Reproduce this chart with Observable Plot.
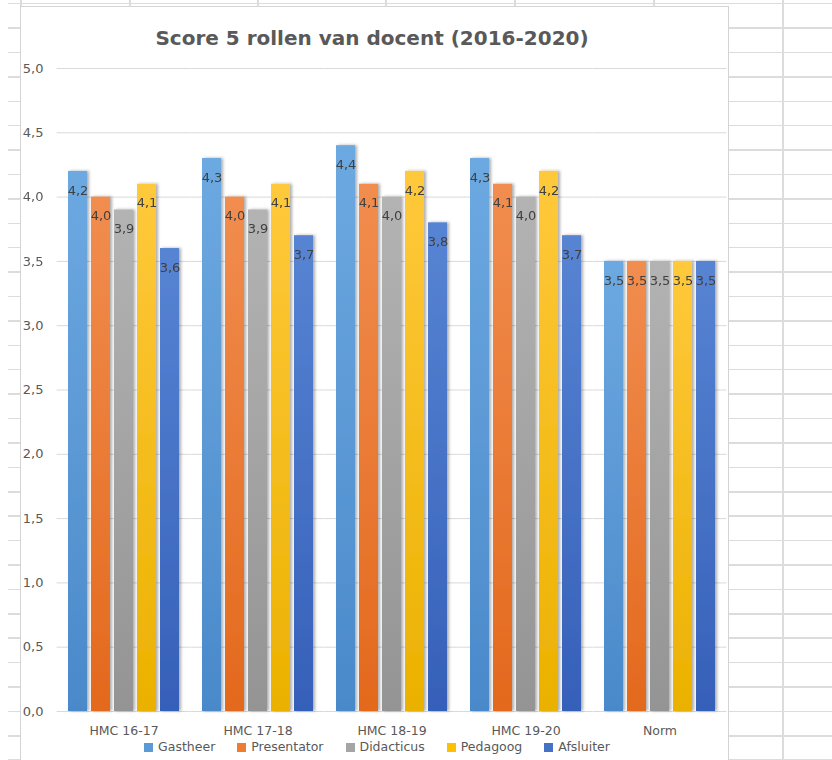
<!DOCTYPE html>
<html lang="nl">
<head>
<meta charset="utf-8">
<title>Score 5 rollen van docent (2016-2020)</title>
<script src="https://cdn.jsdelivr.net/npm/d3@7"></script>
<script src="https://cdn.jsdelivr.net/npm/@observablehq/plot@0.6"></script>
<style>
  html, body { margin: 0; padding: 0; }
  body {
    width: 832px; height: 760px; overflow: hidden; position: relative;
    background: #fff; font-family: "DejaVu Sans", sans-serif;
  }
  /* worksheet cells behind the chart */
  .rows {
    position: absolute; left: 8px; top: 0; right: 0; bottom: 0;
    background-image: repeating-linear-gradient(to bottom,
      transparent 0px, transparent 3px, #dcdcdc 3px, #dcdcdc 4.5px, transparent 4.5px, transparent 24.4px);
  }
  .col { position: absolute; top: 0; bottom: 0; width: 1.5px; background: #dcdcdc; }
  #chart {
    position: absolute; left: 20px; top: 6px; width: 709px; height: 800px;
    background: #fff; border: 1px solid #d4d4d4; box-sizing: border-box;
  }
  #title {
    position: absolute; left: 20px; top: 24px; width: 704px; text-align: center;
    font: bold 20px/28px "DejaVu Sans", sans-serif; color: #595959; white-space: nowrap;
  }
  #plot { position: absolute; left: 20px; top: 50px; }
  #legend {
    position: absolute; left: 20px; top: 739px; width: 714px; height: 16px;
    display: flex; justify-content: center; align-items: center;
  }
  #legend > div { margin: 0 !important; min-height: 0 !important; }
  #legend span { margin-right: 22px !important; line-height: 14px; }
  #legend span:last-child { margin-right: 0 !important; }
  #legend span svg { margin-right: 5px !important; }
</style>
</head>
<body>
<div class="rows"></div>
<div class="col" style="left:20px"></div>
<div class="col" style="left:129px"></div>
<div class="col" style="left:257px"></div>
<div class="col" style="left:385px"></div>
<div class="col" style="left:514px"></div>
<div class="col" style="left:653px"></div>
<div class="col" style="left:782px"></div>

<div id="chart"></div>
<div id="title">Score 5 rollen van docent (2016-2020)</div>
<div id="plot"></div>
<div id="legend"></div>

<!-- shared paint servers: vertical bar gradients and the soft bar shadow -->
<svg width="0" height="0" style="position:absolute">
  <defs id="paints"></defs>
</svg>

<script>
// Groups along the x axis
const categories = ["HMC 16-17", "HMC 17-18", "HMC 18-19", "HMC 19-20", "Norm"];

// The five teacher roles (series)
const series = ["Gastheer", "Presentator", "Didacticus", "Pedagoog", "Afsluiter"];

// Scores per role, one value per group
const gastheer    = [4.2, 4.3, 4.4, 4.3, 3.5];
const presentator = [4.0, 4.0, 4.1, 4.1, 3.5];
const didacticus  = [3.9, 3.9, 4.0, 4.0, 3.5];
const pedagoog    = [4.1, 4.1, 4.2, 4.2, 3.5];
const afsluiter   = [3.6, 3.7, 3.8, 3.7, 3.5];

// Value axis ticks
const yTicks = [0, 0.5, 1, 1.5, 2, 2.5, 3, 3.5, 4, 4.5, 5];

// Office palette, with lighter tops and darker bottoms for the gradient fill
const colors  = ["#5B9BD5", "#ED7D31", "#A5A5A5", "#FFC000", "#4472C4"];
const topTint = ["#6DA9E1", "#F18D4F", "#B3B3B3", "#FFC93C", "#5784D3"];
const baseTint = ["#4A89CA", "#E3691D", "#949494", "#EBB100", "#3660B9"];

const values = [gastheer, presentator, didacticus, pedagoog, afsluiter];
const rows = categories.flatMap((category, i) =>
  series.map((s, j) => ({category, series: s, value: values[j][i]}))
);

const fmt = v => v.toFixed(1).replace(".", ",");
const font = "'DejaVu Sans', sans-serif";

// Gradient and shadow definitions
const defs = d3.select("#paints");
series.forEach((s, i) => {
  const g = defs.append("linearGradient")
    .attr("id", `fill-${i}`).attr("x1", 0).attr("y1", 0).attr("x2", 0).attr("y2", 1);
  g.append("stop").attr("offset", "0%").attr("stop-color", topTint[i]);
  g.append("stop").attr("offset", "100%").attr("stop-color", baseTint[i]);
});
defs.append("filter").attr("id", "barShadow")
  .attr("x", "-20%").attr("y", "-5%").attr("width", "160%").attr("height", "110%")
  .append("feDropShadow")
  .attr("dx", 2).attr("dy", 0).attr("stdDeviation", 1.8)
  .attr("flood-color", "#000").attr("flood-opacity", 0.32);

function gridMark(superFacet) {
  return superFacet
    ? Plot.ruleY(yTicks, {stroke: "#d9d9d9", strokeWidth: 1, facet: "super"})
    : Plot.ruleY(yTicks, {stroke: "#d9d9d9", strokeWidth: 1, insetLeft: -9.4, insetRight: -9.4});
}

function build(superFacet) {
  return Plot.plot({
    width: 710,
    height: 690,
    marginLeft: 36,
    marginRight: 3,
    marginTop: 18,
    marginBottom: 29,
    style: {background: "transparent", fontFamily: font, fontSize: "13px", color: "#595959"},
    fx: {domain: categories, paddingInner: 0.14, paddingOuter: 0.07, label: null, axis: null},
    x: {domain: series, paddingInner: 0.17, paddingOuter: 0, axis: null},
    y: {domain: [0, 5], axis: null, label: null},
    color: {domain: series, range: series.map((s, i) => `url(#fill-${i})`)},
    marks: [
      gridMark(superFacet),
      Plot.barY(rows, {fx: "category", x: "series", y: "value", fill: "series"}),
      Plot.text(rows, {
        fx: "category", x: "series", y: "value",
        text: d => fmt(d.value), dy: 19, fill: "#404040", fontSize: 13
      }),
      Plot.axisY(yTicks, {tickSize: 0, tickPadding: 23, tickFormat: fmt, fontSize: 13, label: null}),
      Plot.axisFx({anchor: "bottom", tickSize: 0, tickPadding: 15, label: null, fontSize: 12.5})
    ]
  });
}

let chart;
try { chart = build(true); } catch (e) { chart = build(false); }
chart.querySelectorAll('g[aria-label="bar"]').forEach(g => g.setAttribute("filter", "url(#barShadow)"));
document.getElementById("plot").append(chart);

const legend = Plot.legend({
  color: {type: "ordinal", domain: series, range: colors},
  legend: "swatches",
  swatchSize: 9,
  style: {fontFamily: font, fontSize: "12.5px", color: "#595959"}
});
document.getElementById("legend").append(legend);
</script>
</body>
</html>
